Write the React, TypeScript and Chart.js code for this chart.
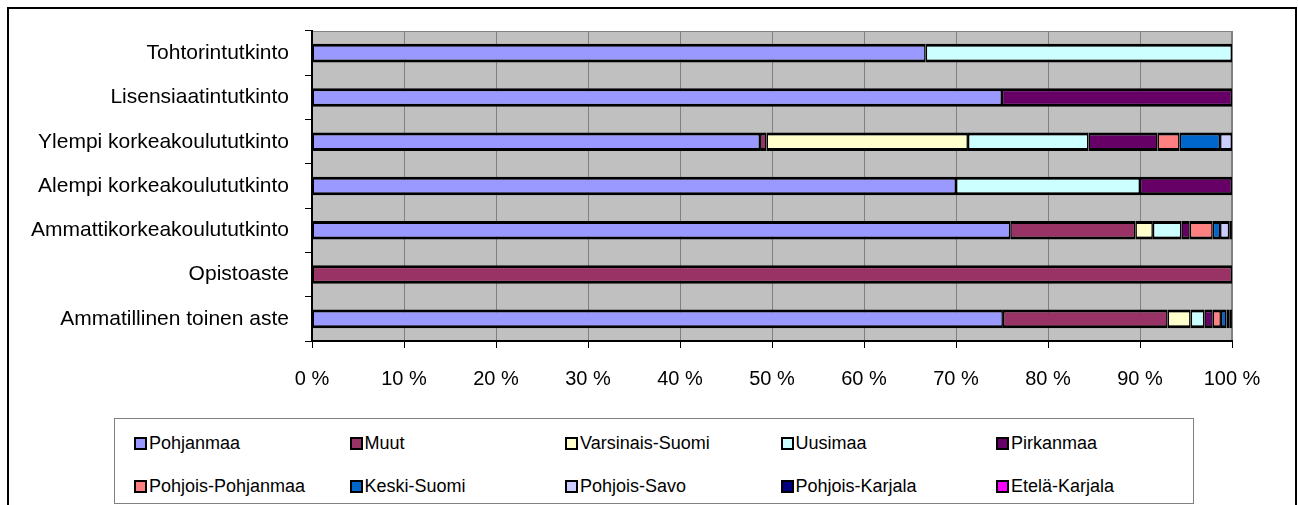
import React, { useEffect, useRef } from "react";
import { Chart, registerables } from "chart.js";

Chart.register(...registerables);

const categories = [
  "Tohtorintutkinto",
  "Lisensiaatintutkinto",
  "Ylempi korkeakoulututkinto",
  "Alempi korkeakoulututkinto",
  "Ammattikorkeakoulututkinto",
  "Opistoaste",
  "Ammatillinen toinen aste",
];

const pohjanmaa = [66.7, 75, 48.7, 70, 75.9, 0, 75.1];
const muut = [0, 0, 0.7, 0, 13.6, 100, 17.9];
const varsinaisSuomi = [0, 0, 21.9, 0, 1.9, 0, 2.5];
const uusimaa = [33.3, 0, 13.1, 20, 3.1, 0, 1.5];
const pirkanmaa = [0, 25, 7.5, 10, 0.9, 0, 0.9];
const pohjoisPohjanmaa = [0, 0, 2.4, 0, 2.5, 0, 0.9];
const keskiSuomi = [0, 0, 4.4, 0, 0.8, 0, 0.6];
const pohjoisSavo = [0, 0, 1.3, 0, 1.0, 0, 0.3];
const pohjoisKarjala = [0, 0, 0, 0, 0.2, 0, 0.2];
const etelaKarjala = [0, 0, 0, 0, 0.1, 0, 0.1];

const seriesNames = [
  "Pohjanmaa",
  "Muut",
  "Varsinais-Suomi",
  "Uusimaa",
  "Pirkanmaa",
  "Pohjois-Pohjanmaa",
  "Keski-Suomi",
  "Pohjois-Savo",
  "Pohjois-Karjala",
  "Etelä-Karjala",
];
const seriesValues = [
  pohjanmaa,
  muut,
  varsinaisSuomi,
  uusimaa,
  pirkanmaa,
  pohjoisPohjanmaa,
  keskiSuomi,
  pohjoisSavo,
  pohjoisKarjala,
  etelaKarjala,
];
const seriesColors = [
  "#9999FF",
  "#993366",
  "#FFFFCC",
  "#CCFFFF",
  "#660066",
  "#FF8080",
  "#0066CC",
  "#CCCCFF",
  "#000080",
  "#FF00FF",
];

const xTickValues = [0, 10, 20, 30, 40, 50, 60, 70, 80, 90, 100];

const FONT = "'Liberation Sans', Arial, sans-serif";

const plotBg = {
  id: "plotBg",
  beforeDraw(chart: any) {
    const { ctx, chartArea } = chart;
    const { left, top, right, bottom } = chartArea;
    ctx.save();
    ctx.fillStyle = "#C0C0C0";
    ctx.fillRect(left, top, right - left, bottom - top);
    ctx.strokeStyle = "#808080";
    ctx.lineWidth = 1;
    ctx.strokeRect(left + 0.5, top + 0.5, right - left - 1, bottom - top - 1);
    ctx.restore();
  },
};

export default function App() {
  const ref = useRef<HTMLCanvasElement>(null);

  useEffect(() => {
    if (!ref.current) return;
    const chart = new Chart(ref.current, {
      type: "bar",
      data: {
        labels: categories,
        datasets: seriesNames.map((name, i) => ({
          label: name,
          data: seriesValues[i],
          backgroundColor: seriesColors[i],
          borderColor: "#000000",
          borderWidth: { top: 3, bottom: 3, left: 1.5, right: 1.5 },
          borderSkipped: false,
          barPercentage: 0.42,
          categoryPercentage: 1,
        })),
      },
      options: {
        indexAxis: "y",
        responsive: false,
        animation: false,
        devicePixelRatio: 1,
        layout: { padding: { top: 31, right: 66, bottom: 0, left: 0 } },
        plugins: {
          legend: { display: false },
          tooltip: { enabled: false },
        },
        scales: {
          x: {
            type: "linear",
            stacked: true,
            min: 0,
            max: 100,
            afterBuildTicks: (s: any) => {
              s.ticks = xTickValues.map((v) => ({ value: v }));
            },
            ticks: {
              callback: (v: any) => v + " %",
              font: { family: FONT, size: 20 },
              color: "#000",
              padding: 19,
              maxRotation: 0,
              autoSkip: false,
            },
            grid: {
              color: "#808080",
              tickColor: "#000",
              tickLength: 7,
              lineWidth: 1,
            },
            border: { color: "#000", width: 2 },
            afterFit: (s: any) => {
              s.height = 164;
            },
          },
          y: {
            type: "category",
            stacked: true,
            ticks: {
              font: { family: FONT, size: 21 },
              color: "#000",
              padding: 16,
            },
            grid: {
              drawOnChartArea: false,
              tickColor: "#000",
              tickLength: 7,
              offset: true,
            },
            border: { color: "#000", width: 2 },
            afterFit: (s: any) => {
              s.width = 312;
            },
          },
        },
      },
      plugins: [plotBg],
    } as any);
    return () => chart.destroy();
  }, []);

  const colX = (i: number) => 19 + i * 215.5;

  return (
    <div
      style={{
        position: "fixed",
        left: 0,
        top: 0,
        width: 1298,
        height: 505,
        background: "#fff",
        overflow: "hidden",
        fontFamily: FONT,
      }}
    >
      <div
        style={{
          position: "absolute",
          left: 7,
          top: 7,
          width: 1286,
          height: 520,
          border: "2px solid #000",
        }}
      />
      <canvas
        ref={ref}
        width={1298}
        height={505}
        style={{ position: "absolute", left: 0, top: 0, width: 1298, height: 505 }}
      />
      <div
        style={{
          position: "absolute",
          left: 114,
          top: 418,
          width: 1078,
          height: 84,
          border: "1px solid #808080",
          background: "#fff",
        }}
      >
        {seriesNames.map((name, i) => {
          const col = i % 5;
          const row = Math.floor(i / 5);
          return (
            <div
              key={name}
              style={{
                position: "absolute",
                left: colX(col),
                top: row === 0 ? 16 : 59,
                height: 16,
                display: "flex",
                alignItems: "center",
                whiteSpace: "nowrap",
              }}
            >
              <span
                style={{
                  display: "inline-block",
                  width: 13,
                  height: 13,
                  boxSizing: "border-box",
                  border: "2px solid #000",
                  background: seriesColors[i],
                  marginRight: 2,
                }}
              />
              <span style={{ fontSize: 18, color: "#000", lineHeight: "16px" }}>{name}</span>
            </div>
          );
        })}
      </div>
    </div>
  );
}
